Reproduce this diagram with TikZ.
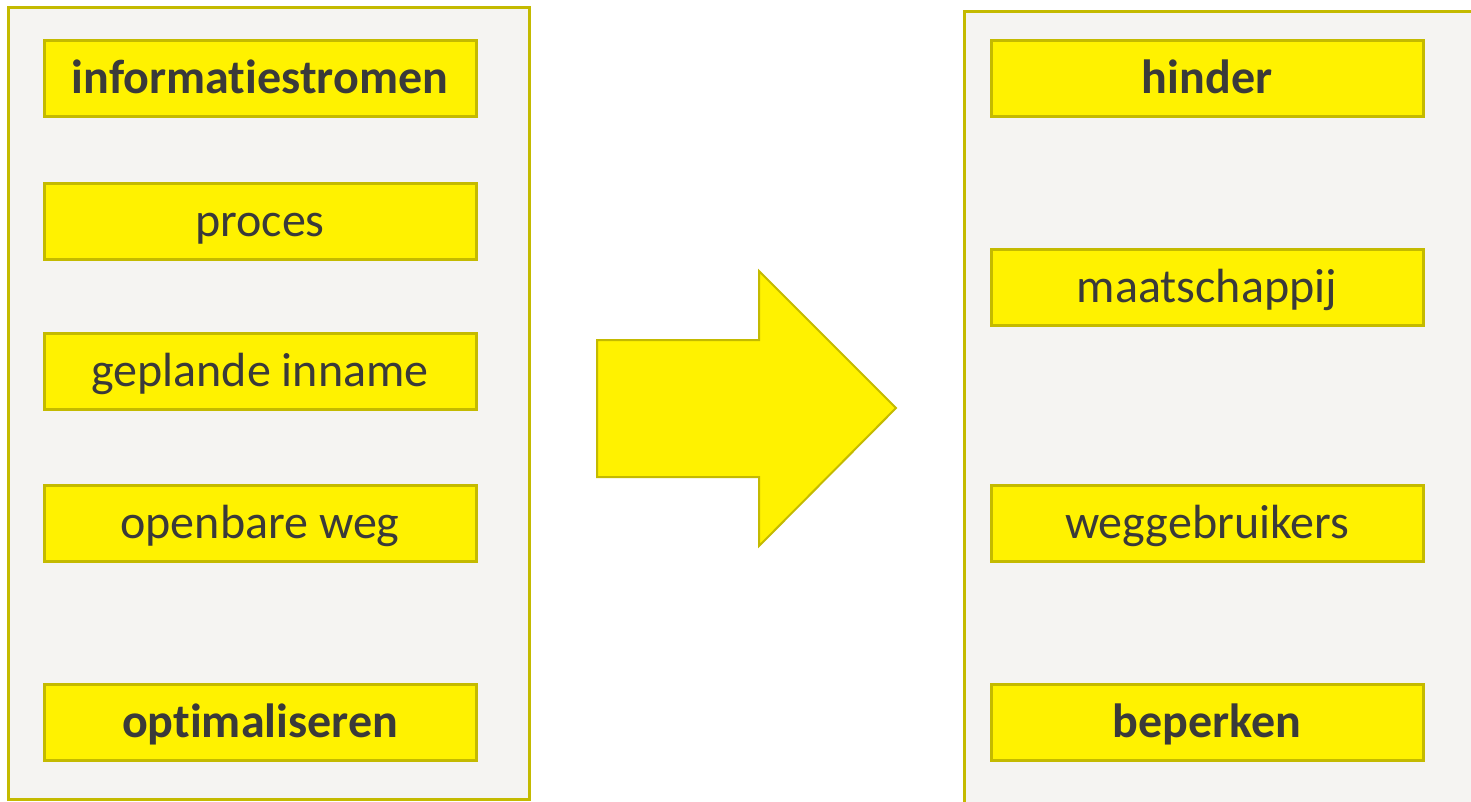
\documentclass[tikz,border=0pt]{standalone}
\usepackage{fontspec}
\setmainfont{Carlito}[Ligatures=NoCommon]
\usepackage{tikz}

\definecolor{boxyellow}{HTML}{FFF200}
\definecolor{boxline}{HTML}{C4BA00}
\definecolor{panelgray}{HTML}{F5F4F2}
\definecolor{textgray}{HTML}{3A3A3A}

\tikzset{
  panel/.style={draw=boxline,fill=panelgray,line width=3pt},
  ybox/.style={draw=boxline,fill=boxyellow,line width=3pt,minimum width=432pt,
    minimum height=76pt,inner sep=0pt,text height=30pt,text depth=0pt,
    text=textgray,font=\fontsize{48}{56}\selectfont},
  bigarrow/.style={draw=boxline,fill=boxyellow,line width=2pt,line join=miter}
}

\begin{document}
\begin{tikzpicture}[x=1pt,y=-1pt]
\useasboundingbox (0,0) rectangle (1471,801);
\clip (0,0) rectangle (1471,801);
\fill[white] (0,0) rectangle (1471,801);
% panels
\draw[panel] (8,7) rectangle (529,799);
\draw[panel] (964,11) rectangle (1490,820);
% left column
\node[ybox] (info) at (260,78) {\bfseries informatiestromen};
\node[ybox] (proces) at (260,221) {proces};
\node[ybox] (inname) at (260,371) {geplande inname};
\node[ybox] (weg) at (260,523) {openbare weg};
\node[ybox] (optim) at (260,722) {\bfseries optimaliseren};
% right column
\node[ybox] (hinder) at (1207,78) {\bfseries hinder};
\node[ybox] (maatsch) at (1207,287) {maatschappij};
\node[ybox] (gebruik) at (1207,523) {weggebruikers};
\node[ybox] (beperk) at (1207,722) {\bfseries beperken};
% arrow
\draw[bigarrow] (597,340) -- (759,340) -- (759,271) -- (896,408) -- (759,546)
  -- (759,477) -- (597,477) -- cycle;
\end{tikzpicture}
\end{document}
